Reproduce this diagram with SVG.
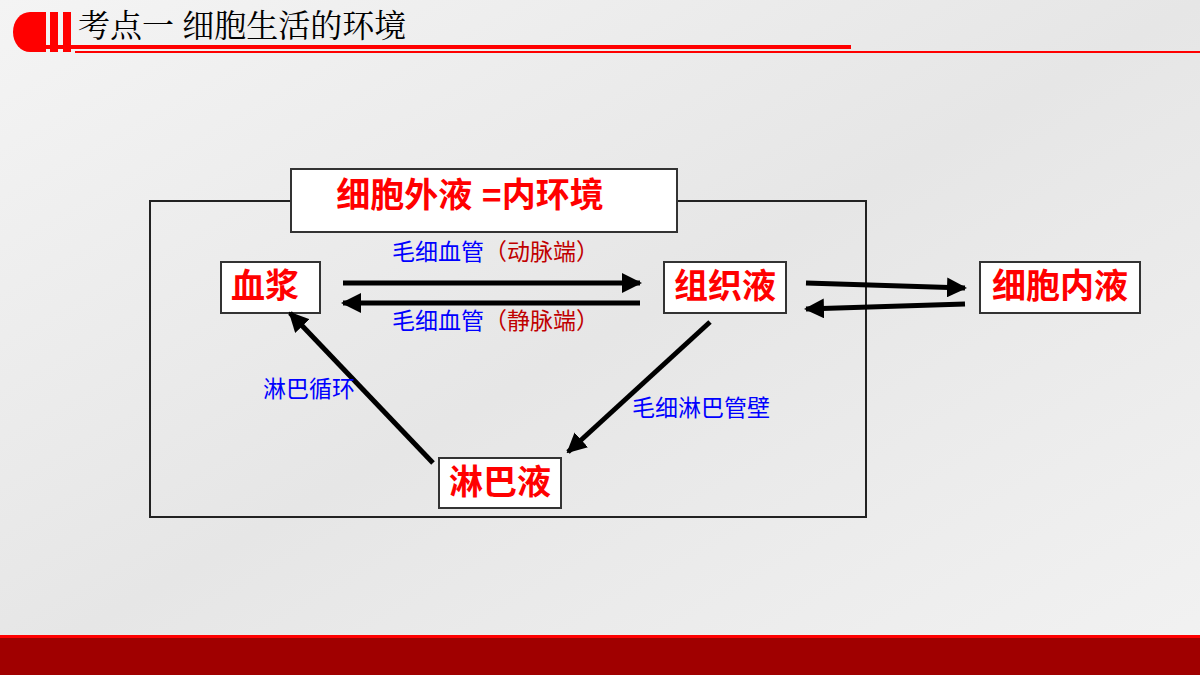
<svg xmlns="http://www.w3.org/2000/svg" width="1200" height="675" viewBox="0 0 1200 675">
<defs>
<marker id="ah" viewBox="0 0 10 10" refX="9" refY="5" markerWidth="4" markerHeight="4" orient="auto"><path d="M0,0L10,5L0,10z" fill="#000"/></marker>
<linearGradient id="bg" x1="0" y1="0" x2="1" y2="1"><stop offset="0" stop-color="#f4f4f4"/><stop offset="0.5" stop-color="#e6e6e6"/><stop offset="1" stop-color="#f2f2f2"/></linearGradient>
</defs>
<style>
.box{fill:#fff;stroke:#333;stroke-width:2}
.red{font-family:"Liberation Sans","Noto Sans CJK SC",sans-serif;font-weight:bold;fill:#ff0000;font-size:34px}
.blue{font-family:"Liberation Sans","Noto Sans CJK SC",sans-serif;fill:#0000ff;font-size:23px}
.dr{fill:#c00000}
.c{stroke:#000;stroke-width:5;fill:none;marker-end:url(#ah)}
</style>
<rect width="1200" height="675" fill="url(#bg)"/>
<g id="header">
<path d="M30,12 H46 V52 H30 A17,20 0 0 1 30,12z" fill="#ff0000"/>
<rect x="50" y="12" width="8" height="40" fill="#ff0000"/>
<rect x="63" y="12" width="8" height="40" fill="#ff0000"/>
<rect x="46" y="45" width="805" height="4" fill="#ff0000"/>
<rect x="75" y="51" width="1125" height="2" fill="#ff0000"/>
<text x="78" y="37" font-family="'Noto Serif CJK SC','Liberation Serif','Noto Sans CJK SC',serif" font-size="32" fill="#000">考点一  细胞生活的环境</text>
</g>
<rect x="0" y="635" width="1200" height="40" fill="#a00000"/>
<rect x="0" y="635" width="1200" height="3" fill="#ff0000"/>
<rect x="150" y="201" width="716" height="316" fill="none" stroke="#222" stroke-width="2"/>
<g id="title"><rect class="box" x="291" y="169" width="386" height="63"/><text class="red" x="470" y="207" text-anchor="middle" font-size="32">细胞外液 =内环境</text></g>
<g id="plasma"><rect class="box" x="221" y="262" width="99" height="51"/><text class="red" x="265" y="298" text-anchor="middle">血浆</text></g>
<g id="tissue"><rect class="box" x="664" y="262" width="122" height="51"/><text class="red" x="725" y="298" text-anchor="middle">组织液</text></g>
<g id="cell"><rect class="box" x="980" y="262" width="160" height="51"/><text class="red" x="1060" y="298" text-anchor="middle">细胞内液</text></g>
<g id="lymph"><rect class="box" x="439" y="458" width="122" height="50"/><text class="red" x="500" y="494" text-anchor="middle">淋巴液</text></g>
<g id="connectors">
<line class="c" x1="343" y1="283" x2="640" y2="283"/>
<line class="c" x1="640" y1="303" x2="343" y2="303"/>
<line class="c" x1="806" y1="283" x2="965" y2="288"/>
<line class="c" x1="965" y1="304" x2="806" y2="309"/>
<line class="c" x1="710" y1="322" x2="568" y2="452"/>
<line class="c" x1="433" y1="463" x2="290" y2="313"/>
</g>
<g id="labels">
<text class="blue" x="392" y="260">毛细血管<tspan class="dr">（动脉端）</tspan></text>
<text class="blue" x="392" y="329">毛细血管<tspan class="dr">（静脉端）</tspan></text>
<text class="blue" x="263" y="397">淋巴循环</text>
<text class="blue" x="632" y="416">毛细淋巴管壁</text>
</g>
</svg>
